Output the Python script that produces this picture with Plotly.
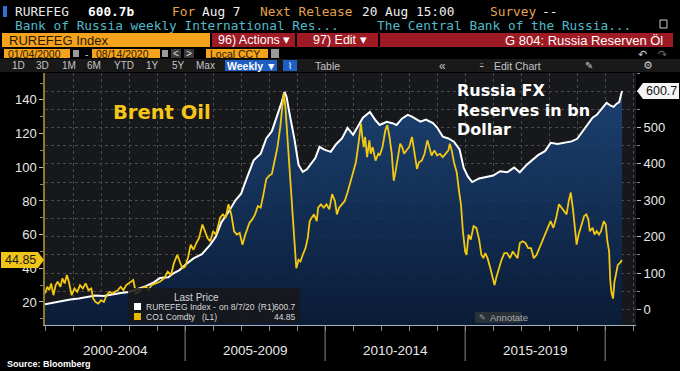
import plotly.graph_objects as go
import pandas as pd

# ---------------- data ----------------
res_t = [2000.0, 2000.3, 2000.6, 2000.9, 2001.2, 2001.5, 2001.8, 2002.1, 2002.4, 2002.7, 2003.0, 2003.3,
         2003.6, 2003.9, 2004.1, 2004.4, 2004.6, 2004.8, 2005.0, 2005.3, 2005.6, 2005.9, 2006.1, 2006.3,
         2006.55, 2006.8, 2007.0, 2007.2, 2007.45, 2007.7, 2007.9, 2008.1, 2008.3, 2008.45, 2008.55,
         2008.62, 2008.75, 2008.9, 2009.05, 2009.2, 2009.35, 2009.5, 2009.65, 2009.8, 2009.95, 2010.2,
         2010.4, 2010.6, 2010.8, 2011.0, 2011.2, 2011.35, 2011.6, 2011.8, 2011.95, 2012.2, 2012.4,
         2012.55, 2012.75, 2012.95, 2013.1, 2013.4, 2013.6, 2013.85, 2014.0, 2014.2, 2014.4, 2014.6,
         2014.8, 2014.95, 2015.1, 2015.25, 2015.5, 2015.8, 2016.0, 2016.25, 2016.5, 2016.75, 2016.95,
         2017.2, 2017.4, 2017.6, 2017.85, 2018.05, 2018.3, 2018.6, 2018.8, 2019.0, 2019.2, 2019.4,
         2019.55, 2019.7, 2019.85, 2020.05, 2020.2, 2020.3, 2020.4, 2020.5, 2020.6]
res_v = [14, 19, 24, 27, 30, 35, 38, 37, 42, 45, 48, 56,
         64, 75, 86, 88, 100, 108, 122, 140, 152, 178, 200, 240,
         268, 300, 318, 360, 410, 428, 470, 490, 535, 570, 598,
         585, 530, 470, 398, 378, 385, 400, 416, 447, 440, 433,
         455, 470, 499, 480, 505, 527, 543, 520, 507, 516, 512,
         507, 525, 535, 530, 516, 522, 512, 500, 475, 470, 461,
         440, 389, 365, 350, 360, 364, 368, 380, 377, 390, 377,
         398, 410, 424, 435, 458, 455, 458, 462, 469, 490, 510,
         527, 535, 550, 568, 560, 557, 565, 570, 600.7]

brent_t = [2000.0, 2000.08, 2000.15, 2000.22, 2000.3, 2000.38, 2000.45, 2000.55, 2000.62, 2000.7, 2000.78,
           2000.85, 2000.95, 2001.05, 2001.15, 2001.25, 2001.35, 2001.45, 2001.55, 2001.65, 2001.72, 2001.8,
           2001.9, 2002.0, 2002.1, 2002.2, 2002.3, 2002.4, 2002.5, 2002.6, 2002.7, 2002.8, 2002.9, 2003.05,
           2003.15, 2003.25, 2003.35, 2003.45, 2003.6, 2003.7, 2003.8, 2003.95, 2004.1, 2004.25, 2004.38,
           2004.5, 2004.6, 2004.72, 2004.8, 2004.9, 2005.0, 2005.1, 2005.2, 2005.3, 2005.4, 2005.5, 2005.62,
           2005.7, 2005.8, 2005.9, 2006.0, 2006.1, 2006.25, 2006.35, 2006.45, 2006.55, 2006.65, 2006.75,
           2006.85, 2006.95, 2007.05, 2007.15, 2007.3, 2007.4, 2007.5, 2007.6, 2007.7, 2007.8, 2007.9,
           2008.0, 2008.1, 2008.2, 2008.3, 2008.4, 2008.45, 2008.52, 2008.58, 2008.65, 2008.72, 2008.8,
           2008.85, 2008.92, 2008.97, 2009.05, 2009.12, 2009.2, 2009.3, 2009.38, 2009.45, 2009.52, 2009.6,
           2009.7, 2009.75, 2009.85, 2009.95, 2010.05, 2010.15, 2010.25, 2010.35, 2010.42, 2010.5, 2010.6,
           2010.7, 2010.8, 2010.9, 2011.0, 2011.1, 2011.2, 2011.28, 2011.33, 2011.38, 2011.43, 2011.5,
           2011.58, 2011.63, 2011.7, 2011.8, 2011.9, 2011.95, 2012.05, 2012.15, 2012.22, 2012.3, 2012.38,
           2012.45, 2012.52, 2012.6, 2012.68, 2012.75, 2012.82, 2012.9, 2013.0, 2013.1, 2013.18, 2013.28,
           2013.35, 2013.45, 2013.55, 2013.65, 2013.72, 2013.8, 2013.9, 2014.0, 2014.1, 2014.2, 2014.3,
           2014.4, 2014.45, 2014.52, 2014.6, 2014.7, 2014.78, 2014.85, 2014.92, 2015.0, 2015.05, 2015.12,
           2015.2, 2015.3, 2015.4, 2015.5, 2015.58, 2015.65, 2015.72, 2015.8, 2015.9, 2016.0, 2016.05,
           2016.12, 2016.2, 2016.3, 2016.4, 2016.5, 2016.6, 2016.7, 2016.78, 2016.87, 2016.95, 2017.05,
           2017.15, 2017.25, 2017.35, 2017.45, 2017.55, 2017.65, 2017.75, 2017.85, 2017.95, 2018.05,
           2018.15, 2018.25, 2018.35, 2018.45, 2018.55, 2018.62, 2018.7, 2018.77, 2018.85, 2018.92,
           2018.98, 2019.05, 2019.15, 2019.25, 2019.33, 2019.4, 2019.45, 2019.55, 2019.62, 2019.7, 2019.78,
           2019.85, 2019.95, 2020.02, 2020.08, 2020.14, 2020.18, 2020.22, 2020.28, 2020.33, 2020.38,
           2020.45, 2020.52, 2020.6]
brent_v = [25, 29, 27, 31, 24, 30, 32, 29, 34, 31, 36,
           32, 24, 28, 26, 30, 28, 31, 27, 28, 22, 20,
           19, 21, 20, 24, 26, 25, 26, 27, 29, 27, 30, 32,
           33, 25, 26, 28, 29, 27, 30, 31, 32, 34, 38,
           36, 43, 48, 44, 40, 41, 46, 54, 51, 55, 58, 66,
           62, 58, 56, 62, 60, 70, 72, 70, 78, 72, 62,
           60, 61, 54, 60, 67, 69, 72, 77, 76, 84, 93,
           95, 96, 104, 112, 124, 132, 144, 136, 118, 103, 86,
           68, 50, 40, 45, 44, 48, 52, 58, 68, 70, 72,
           68, 76, 78, 76, 78, 75, 84, 80, 72, 76, 78,
           80, 85, 91, 96, 103, 115, 126, 118, 112, 118, 106,
           116, 108, 112, 104, 108, 107, 112, 122, 125, 118, 108,
           92, 98, 106, 114, 112, 108, 110, 112, 118, 110, 99,
           103, 104, 108, 116, 112, 107, 110, 107, 108, 106, 108,
           110, 114, 110, 103, 97, 86, 78, 62, 50, 48, 60,
           57, 65, 64, 57, 48, 46, 49, 46, 40, 32, 30,
           35, 40, 45, 49, 49, 46, 50, 48, 46, 55, 56,
           55, 52, 52, 46, 48, 52, 57, 61, 65, 68,
           64, 70, 78, 76, 74, 72, 80, 85, 75, 62,
           54, 60, 66, 71, 72, 69, 62, 64, 60, 62, 60,
           62, 68, 66, 56, 50, 33, 26, 22, 32, 36,
           42, 43, 44.85]

period_labels = ["2000-2004", "2005-2009", "2010-2014", "2015-2019"]
period_starts = [2000, 2005, 2010, 2015]
separators = [2005, 2010, 2015, 2020]

RES_RANGE = [-43, 650]
BRENT_RANGE = [6.3, 156]
X_RANGE = ["2000-01-01", "2021-02-06"]


def to_date(d):
    y = int(d)
    s = pd.Timestamp(year=y, month=1, day=1)
    e = pd.Timestamp(year=y + 1, month=1, day=1)
    return s + (e - s) * (d - y)


res_x = [to_date(t) for t in res_t]
brent_x = [to_date(t) for t in brent_t]

# ---------------- geometry helpers ----------------
W, H = 680, 371
L, R, T, B = 45, 636, 73, 325


def fx(x):
    return (x - L) / (R - L)


def fy(y):
    return (B - y) / (B - T)


def yl_px(v):
    return T + (BRENT_RANGE[1] - v) / (BRENT_RANGE[1] - BRENT_RANGE[0]) * (B - T)


def yr_px(v):
    return T + (RES_RANGE[1] - v) / (RES_RANGE[1] - RES_RANGE[0]) * (B - T)


shapes = []
annots = []


def rect(x0, y0, x1, y1, fill, line=None, lw=0):
    shapes.append(dict(type="rect", xref="paper", yref="paper", x0=fx(x0), x1=fx(x1),
                       y0=fy(y1), y1=fy(y0), fillcolor=fill,
                       line=dict(color=line or fill, width=lw), layer="above"))


def txt(x, y, s, size=12, color="#e0e0e0", family="Liberation Sans", anchor="left", bold=False):
    if bold:
        s = "<b>" + s + "</b>"
    annots.append(dict(x=fx(x), y=fy(y), xref="paper", yref="paper", text=s, showarrow=False,
                       xanchor=anchor, yanchor="middle",
                       font=dict(size=size, color=color, family=family)))


def path(pts, fill):
    d = "M " + " L ".join(f"{fx(a)},{fy(b)}" for a, b in pts) + " Z"
    shapes.append(dict(type="path", xref="paper", yref="paper", path=d, fillcolor=fill,
                       line=dict(width=0), layer="above"))


fig = go.Figure()

# baseline for fill (at axis minimum)
fig.add_trace(go.Scatter(x=[res_x[0], res_x[-1]], y=[RES_RANGE[0], RES_RANGE[0]], mode="lines",
                         line=dict(width=0), hoverinfo="skip", showlegend=False, yaxis="y"))
fig.add_trace(go.Scatter(x=res_x, y=res_v, mode="lines", line=dict(color="#ffffff", width=2),
                         fill="tonexty",
                         fillgradient=dict(type="vertical", start=RES_RANGE[0], stop=600,
                                           colorscale=[[0, "rgba(8,28,58,0.88)"],
                                                       [1, "rgba(28,70,124,0.88)"]]),
                         showlegend=False, yaxis="y", name="RUREFEG Index"))
fig.add_trace(go.Scatter(x=brent_x, y=brent_v, mode="lines", line=dict(color="#f2c811", width=1.8),
                         showlegend=False, yaxis="y2", name="CO1 Comdty"))

# ---------------- header ----------------
MONO = "DejaVu Sans Mono"
ORANGE_T = "#e4a24e"
rect(3, 6, 7, 17, "#2f6fd6")
txt(13, 11, "RUREFEG", 12.8, "#e8e8e8", MONO)
txt(86, 11, "600.7b", 12.8, "#ffffff", MONO, bold=True)
txt(170, 11, "For", 12.8, ORANGE_T, MONO)
txt(200, 11, "Aug 7", 12.8, "#f0f0f0", MONO)
txt(258, 11, "Next Release", 12.8, ORANGE_T, MONO)
txt(360, 11, "20 Aug 15:00", 12.8, "#f0f0f0", MONO)
txt(488, 11, "Survey", 12.8, ORANGE_T, MONO)
txt(540, 11, "--", 12.8, "#f0f0f0", MONO)
txt(13, 25.5, "Bank of Russia weekly International Res...", 12.8, "#52b9c9", MONO)
txt(375, 25.5, "The Central Bank of the Russia...", 12.8, "#52b9c9", MONO)
rect(660, 20, 667, 28, "rgba(0,0,0,0)", "#cfcfcf", 1)

rect(2, 33, 210, 47, "#f5a31d")
txt(7, 40, "RUREFEG Index", 13, "#2a1800")
rect(212, 33, 295, 47, "#9e1a24")
rect(297, 33, 378, 47, "#9e1a24")
rect(380, 33, 673, 47, "#9e1a24")
txt(216, 40, "96) Actions ▾", 12.5, "#ffffff")
txt(311, 40, "97) Edit ▾", 12.5, "#ffffff")
txt(665, 40, "G 804: Russia Reserven Öl", 13, "#ffffff", anchor="right")

rect(4, 49, 70, 58, "#f5a31d")
txt(6, 53.5, "01/04/2000", 10.5, "#2a1800")
rect(73, 50, 79, 57, "#9a9a9a")
txt(83, 53.5, "-", 10.5, "#cccccc")
rect(92, 49, 160, 58, "#f5a31d")
txt(94, 53.5, "08/14/2020", 10.5, "#2a1800")
rect(162, 50, 168, 57, "#9a9a9a")
rect(171, 49, 181, 58, "#3a3a3a")
txt(176, 53.5, "<", 10, "#dddddd", anchor="center")
rect(184, 49, 194, 58, "#3a3a3a")
txt(189, 53.5, ">", 10, "#dddddd", anchor="center")
rect(206, 49, 268, 58, "#f5a31d")
txt(208, 53.5, "Local CCY", 10.5, "#2a1800")
rect(271, 49, 279, 58, "#9a9a9a")
txt(642, 54, "↶", 11, "#cfcfcf", "DejaVu Sans", anchor="center")
txt(662, 54, "↷", 11, "#666666", "DejaVu Sans", anchor="center")

rect(0, 59, 680, 72, "#191919")
for lab, cx in zip(["1D", "3D", "1M", "6M", "YTD", "1Y", "5Y", "Max"],
                   [18, 42, 69, 94, 124, 152, 178, 205]):
    txt(cx, 65.5, lab, 10, "#c4c4c4", anchor="center")
rect(225, 60, 277, 71, "#1f5fc4")
txt(251, 65.5, "Weekly ▼", 10.5, "#ffffff", anchor="center", bold=True)
rect(283, 60, 297, 71, "#1f5fc4")
txt(290, 65.5, "⌇", 9, "#ffffff", "DejaVu Sans", anchor="center")
txt(327, 65.5, "Table", 10.5, "#c4c4c4", anchor="center")
txt(443, 65.5, "«", 12, "#c4c4c4", anchor="center")
txt(481, 65.5, "⍨", 9, "#c4c4c4", "DejaVu Sans", anchor="center")
txt(492, 65.5, "Edit Chart", 10.5, "#c4c4c4")
txt(589, 65.5, "✎", 10, "#c4c4c4", "DejaVu Sans", anchor="center")
txt(648, 65.5, "⚙", 11, "#c4c4c4", "DejaVu Sans", anchor="center")

# ---------------- chart annotations ----------------
txt(111, 112, "Brent Oil", 19.5, "#f5c518", "DejaVu Sans", bold=True)
txt(455, 90, "Russia FX", 16, "#ffffff", "DejaVu Sans", bold=True)
txt(455, 110, "Reserves in bn", 16, "#ffffff", "DejaVu Sans", bold=True)
txt(455, 129, "Dollar", 16, "#ffffff", "DejaVu Sans", bold=True)

# legend box
rect(128, 288, 300, 323, "rgba(24,24,26,0.85)")
txt(197, 297, "Last Price", 10, "#d8d8d8", anchor="center")
rect(134, 303, 141, 310, "#ffffff")
txt(144, 307, "RUREFEG Index -", 8.5, "#d8d8d8")
txt(217, 307, "on 8/7/20", 8.5, "#d8d8d8")
txt(256, 307, "(R1)", 8.5, "#d8d8d8")
txt(298, 307, f"{res_v[-1]}", 8.5, "#d8d8d8", anchor="right")
rect(134, 313, 141, 320, "#e6b800")
txt(144, 317, "CO1 Comdty", 8.5, "#d8d8d8")
txt(200, 317, "(L1)", 8.5, "#d8d8d8")
txt(298, 317, f"{brent_v[-1]}", 8.5, "#d8d8d8", anchor="right")

# annotate button
rect(475, 312, 521, 323, "#2a3038")
txt(482, 317.5, "✎", 8, "#9a9a9a", "DejaVu Sans", anchor="center")
txt(488, 317.5, "Annotate", 9.5, "#aaaaaa")

# last value tags
yb = yl_px(brent_v[-1])
path([(1, yb - 8), (38, yb - 8), (44, yb), (38, yb + 8), (1, yb + 8)], "#f0c419")
txt(20, yb, f"{brent_v[-1]}", 12.5, "#1a1a1a", anchor="center")
yr = yr_px(res_v[-1])
path([(637, yr), (643, yr - 8), (679, yr - 8), (679, yr + 8), (643, yr + 8)], "#f4f4f4")
txt(661, yr, f"{res_v[-1]}", 12.5, "#111111", anchor="center")

# period labels and separators
for s in separators:
    shapes.append(dict(type="line", xref="x", yref="paper", x0=to_date(s), x1=to_date(s),
                       y0=fy(325), y1=fy(361), line=dict(color="#8a8a8a", width=1)))
for lab, s in zip(period_labels, period_starts):
    annots.append(dict(x=to_date(s + 2.5), y=fy(350), xref="x", yref="paper", text=lab,
                       showarrow=False, xanchor="center", yanchor="middle",
                       font=dict(size=13.5, color="#e8e8e8", family="Liberation Sans")))

txt(5, 364, "Source: Bloomberg", 9, "#ffffff", bold=True)

fig.update_layout(
    width=W, height=H,
    margin=dict(l=L, r=W - R, t=T, b=H - B, pad=0),
    paper_bgcolor="#000000", plot_bgcolor="#17181b",
    showlegend=False,
    shapes=shapes, annotations=annots,
    xaxis=dict(type="date", range=X_RANGE, showgrid=True, gridcolor="#4a4a4a", griddash="dot",
               gridwidth=1, dtick="M12", tick0="2000-01-01", ticks="outside", ticklen=5,
               tickcolor="#8a8a8a", showticklabels=False, showline=True, linecolor="#a8b0bc",
               linewidth=1, zeroline=False),
    yaxis=dict(range=RES_RANGE, side="right", dtick=100, tick0=0, showgrid=True,
               gridcolor="#4a4a4a", griddash="dot", gridwidth=1, ticks="outside", ticklen=4,
               tickcolor="#bbbbbb", zeroline=False, showline=False,
               tickfont=dict(size=13, color="#e8e8e8", family="Liberation Sans"),
               minor=dict(dtick=50, tick0=0, ticks="outside", ticklen=3, tickcolor="#888888",
                          showgrid=True, gridcolor="#4a4a4a", griddash="dot")),
    yaxis2=dict(range=BRENT_RANGE, side="left", overlaying="y", dtick=20, tick0=0,
                showgrid=False, ticks="outside", ticklen=4, tickcolor="#bbbbbb",
                zeroline=False, showline=True, linecolor="#8c7a2c", linewidth=1.5,
                tickfont=dict(size=13, color="#e8e8e8", family="Liberation Sans"),
                minor=dict(dtick=10, tick0=0, ticks="outside", ticklen=3, tickcolor="#888888")),
)

fig.write_html("out.html", config={"displayModeBar": False},
               post_script="document.body.style.margin='0';document.body.style.padding='0';"
                           "document.body.style.overflow='hidden';"
                           "document.body.style.background='#000';")
